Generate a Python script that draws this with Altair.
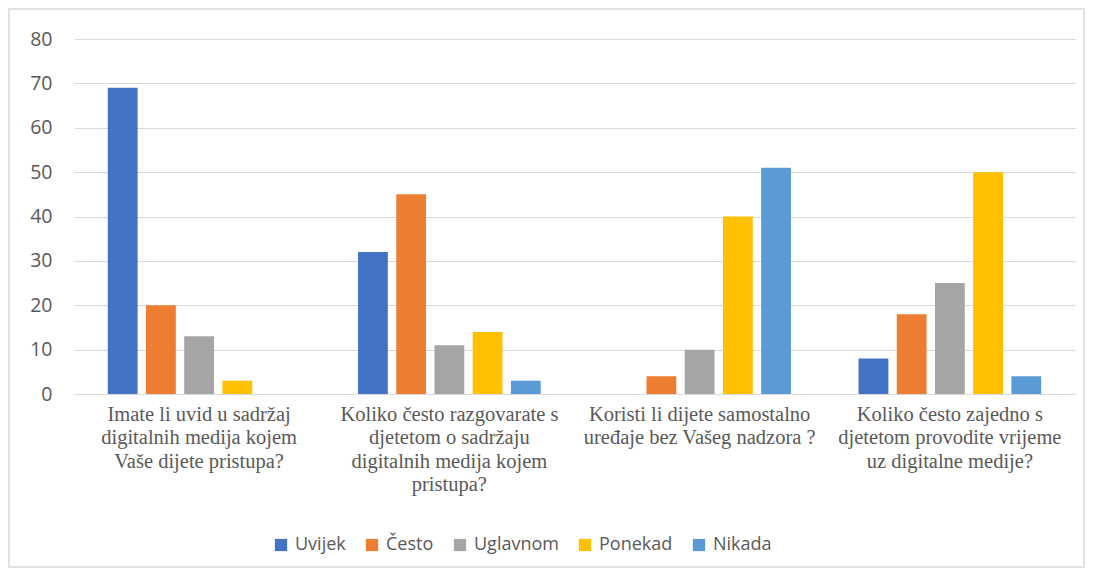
import altair as alt
import pandas as pd

questions = [
    "Imate li uvid u sadržaj\ndigitalnih medija kojem\nVaše dijete pristupa?",
    "Koliko često razgovarate s\ndjetetom o sadržaju\ndigitalnih medija kojem\npristupa?",
    "Koristi li dijete samostalno\nuređaje bez Vašeg nadzora ?",
    "Koliko često zajedno s\ndjetetom provodite vrijeme\nuz digitalne medije?",
]
series = ["Uvijek", "Često", "Uglavnom", "Ponekad", "Nikada"]
colors = ["#4472C4", "#ED7D31", "#A5A5A5", "#FFC000", "#5B9BD5"]

uvijek = [69, 32, 0, 8]
cesto = [20, 45, 4, 18]
uglavnom = [13, 11, 10, 25]
ponekad = [3, 14, 40, 50]
nikada = [0, 3, 51, 4]

values = [uvijek, cesto, uglavnom, ponekad, nikada]
rows = []
for s, vals in zip(series, values):
    for q, v in zip(questions, vals):
        rows.append({"pitanje": q, "odgovor": s, "vrijednost": v})
df = pd.DataFrame(rows)

SANS = "Open Sans"
SERIF = "Liberation Serif"
GREY = "#595959"

bars = alt.Chart(df).mark_bar().encode(
    x=alt.X("pitanje:N", sort=questions, title=None,
            scale=alt.Scale(paddingInner=0.27, paddingOuter=0.135),
            axis=alt.Axis(labelExpr="split(datum.label, '\\n')", labelAngle=0,
                          labelFont=SERIF, labelFontSize=20.5, labelLineHeight=23.5,
                          labelColor=GREY, labelLimit=400, labelPadding=10,
                          ticks=False, domain=False, grid=False, labelBaseline="top")),
    xOffset=alt.XOffset("odgovor:N", sort=series,
                        scale=alt.Scale(paddingInner=0.22, paddingOuter=0)),
    y=alt.Y("vrijednost:Q", title=None,
            scale=alt.Scale(domain=[0, 80], nice=False),
            axis=alt.Axis(values=[0, 10, 20, 30, 40, 50, 60, 70, 80], grid=True,
                          gridColor="#D9D9D9", gridWidth=1, domain=False, ticks=False,
                          labelFont=SANS, labelFontSize=19.5, labelColor=GREY,
                          labelPadding=22)),
    color=alt.Color("odgovor:N", sort=series, title=None,
                    scale=alt.Scale(domain=series, range=colors),
                    legend=alt.Legend(orient="none", direction="horizontal",
                                      legendX=198, legendY=497,
                                      symbolType="square", symbolSize=150,
                                      symbolStrokeWidth=0, symbolOpacity=1,
                                      labelFont=SANS, labelFontSize=18,
                                      labelColor=GREY, columnPadding=17,
                                      labelOffset=5)),
)

border = alt.Chart(alt.Data(values=[{"a": 1}])).mark_rect(
    fill="transparent", stroke="#D9D9D9", strokeWidth=1.5
).encode(
    x=alt.value(-65), x2=alt.value(1010), y=alt.value(-30), y2=alt.value(528)
)

chart = alt.layer(border, bars).properties(
    width=1001, height=355,
    background="white",
    autosize=alt.AutoSizeParams(type="none"),
    padding={"left": 66, "top": 31, "right": 10, "bottom": 175},
).configure_view(stroke="transparent", strokeWidth=0)

chart.save("out.html", embed_options={"renderer": "svg", "actions": False})
